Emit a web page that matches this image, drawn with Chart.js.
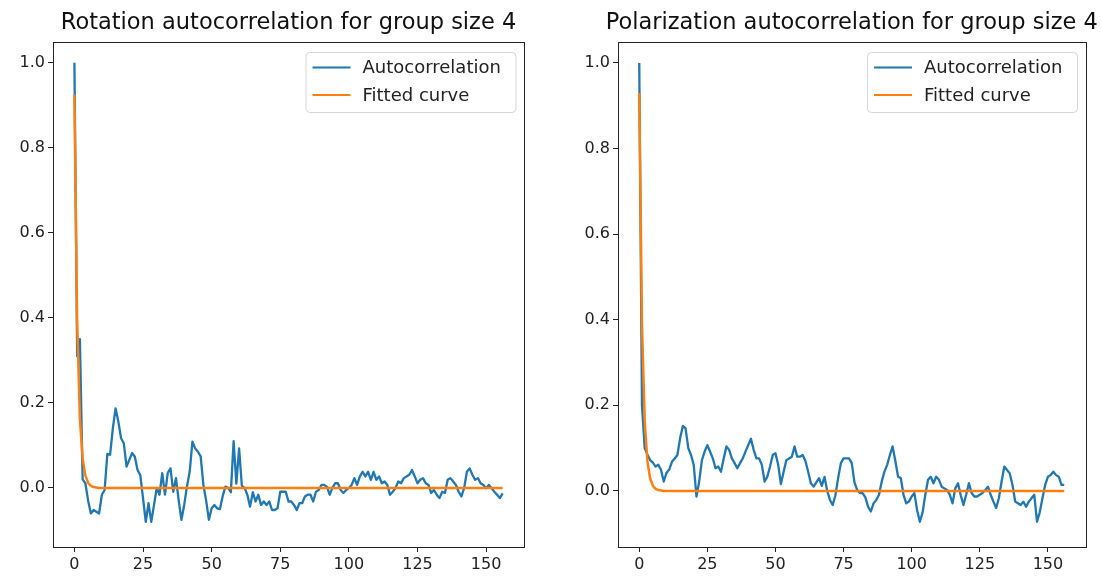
<!DOCTYPE html>
<html>
<head>
<title>Autocorrelation for group size 4</title>
<script src="https://cdn.jsdelivr.net/npm/chart.js"></script>
<style>
body { margin:0; background:#fff; }
.panel { position:absolute; top:0; width:551px; height:579px; }
</style>
</head>
<body>
<div class="panel" style="left:0"><canvas id="rot" width="551" height="579"></canvas></div>
<div class="panel" style="left:551px"><canvas id="pol" width="551" height="579"></canvas></div>

<script>
// ---------------- DATA ----------------
const xTicks = [0, 25, 50, 75, 100, 125, 150];
const yTicks = [0.0, 0.2, 0.4, 0.6, 0.8, 1.0];
const lags = Array.from({length:157}, (_, i) => i);

const rotationAC = [
 1.0, 0.31, 0.35, 0.02, 0.011, -0.03, -0.06, -0.052, -0.056, -0.06,
 -0.016, -0.005, 0.08, 0.078, 0.14, 0.187, 0.156, 0.117, 0.105, 0.05,
 0.066, 0.082, 0.074, 0.042, 0.03, -0.024, -0.08, -0.036, -0.08, -0.04,
 0.0, -0.016, 0.035, -0.016, 0.035, 0.046, -0.009, 0.023, -0.03, -0.075,
 -0.04, 0.003, 0.038, 0.109, 0.093, 0.085, 0.074, 0.007, -0.03, -0.075,
 -0.048, -0.04, -0.048, -0.05, -0.02, 0.003, 0.0, -0.01, 0.11, 0.01,
 0.093, 0.005, 0.0, -0.016, -0.044, -0.01, -0.032, -0.016, -0.04, -0.032,
 -0.04, -0.032, -0.052, -0.052, -0.048, -0.009, -0.009, -0.009, -0.032, -0.032,
 -0.04, -0.052, -0.036, -0.036, -0.02, -0.016, -0.016, -0.032, -0.009, -0.005,
 0.007, 0.007, 0.003, -0.016, 0.0, 0.011, 0.011, -0.005, -0.012, -0.005,
 0.0, 0.007, 0.023, 0.007, 0.027, 0.038, 0.027, 0.038, 0.019, 0.038,
 0.019, 0.027, 0.011, 0.015, 0.007, -0.016, -0.009, 0.0, 0.015, 0.011,
 0.023, 0.027, 0.031, 0.042, 0.027, 0.011, 0.019, 0.023, 0.011, 0.007,
 -0.012, -0.005, -0.016, -0.024, -0.009, -0.012, 0.019, 0.023, 0.015, 0.007,
 -0.009, -0.02, 0.0, 0.038, 0.046, 0.031, 0.019, 0.023, 0.011, 0.007,
 -0.001, 0.007, -0.001, -0.009, -0.016, -0.024, -0.013
];

const polarizationAC = [
 1.0, 0.2, 0.1, 0.085, 0.072, 0.066, 0.057, 0.061, 0.049, 0.022,
 0.042, 0.05, 0.068, 0.076, 0.084, 0.123, 0.152, 0.146, 0.1, 0.084,
 0.061, -0.013, 0.022, 0.072, 0.092, 0.107, 0.092, 0.076, 0.053, 0.057,
 0.045, 0.076, 0.104, 0.096, 0.076, 0.065, 0.053, 0.065, 0.076, 0.092,
 0.107, 0.122, 0.096, 0.076, 0.076, 0.061, 0.022, 0.033, 0.057, 0.084,
 0.088, 0.061, 0.016, 0.045, 0.072, 0.076, 0.08, 0.104, 0.08, 0.08,
 0.084, 0.07, 0.045, 0.018, 0.01, 0.02, 0.03, 0.012, 0.033, 0.0,
 -0.021, -0.033, -0.01, 0.03, 0.065, 0.076, 0.076, 0.076, 0.065, 0.02,
 0.002, -0.005, -0.005, -0.015, -0.037, -0.048, -0.029, -0.021, -0.009, 0.022,
 0.045, 0.061, 0.084, 0.104, 0.07, 0.033, 0.03, -0.009, -0.029, -0.025,
 -0.013, -0.005, -0.045, -0.072, -0.05, -0.009, 0.026, 0.033, 0.018, 0.033,
 0.026, 0.01, 0.006, 0.002, -0.009, -0.029, 0.006, 0.018, -0.01, -0.033,
 -0.009, 0.018, -0.005, -0.013, -0.013, -0.009, -0.005, 0.002, 0.01, -0.009,
 -0.025, -0.04, -0.017, 0.022, 0.057, 0.049, 0.041, 0.014, -0.025, -0.029,
 -0.033, -0.025, -0.037, -0.025, -0.017, -0.009, -0.072, -0.05, -0.017, 0.014,
 0.033, 0.037, 0.045, 0.037, 0.033, 0.014, 0.014
];

// fitted exponential, read at the first lags; flat at zero afterwards
const rotationFit = [0.925, 0.39, 0.163, 0.069, 0.029, 0.012, 0.005, 0.002, 0.001, 0.0];
const polarizationFit = [0.93, 0.39, 0.164, 0.069, 0.029, 0.012, 0.005, 0.002, 0.001, 0.0];
const lastLag = 156;

const seriesNames = ["Autocorrelation", "Fitted curve"];
const BLUE = "#1f77b4";
const ORANGE = "#ff7f0e";
const FONT = "DejaVu Sans";

// ---------------- FRAME / TITLE / LEGEND ----------------
const decor = {
    id: "decor",
    afterDraw(chart, args, o){
        const ctx = chart.ctx;
        const a = chart.chartArea;
        ctx.save();

        // box around axes
        ctx.strokeStyle = "#222";
        ctx.lineWidth = 1;
        ctx.strokeRect(Math.round(a.left)+0.5, Math.round(a.top)+0.5,
                       Math.round(a.right-a.left), Math.round(a.bottom-a.top));

        // title
        ctx.fillStyle = "#111";
        ctx.font = o.titleSize + "px '" + FONT + "'";
        ctx.textAlign = "center";
        ctx.textBaseline = "alphabetic";
        ctx.fillText(o.title, (a.left+a.right)/2, 29);

        // legend
        const w = 210, h = 60;
        const x = a.right - 8.5 - w, y = a.top + 10;
        ctx.beginPath();
        ctx.roundRect(x+0.5, y+0.5, w, h, 4);
        ctx.fillStyle = "rgba(255,255,255,0.85)";
        ctx.fill();
        ctx.strokeStyle = "#d6d6d6";
        ctx.stroke();

        ctx.font = o.legendSize + "px '" + FONT + "'";
        ctx.textAlign = "left";
        ctx.textBaseline = "middle";
        chart.data.datasets.forEach((ds, i)=>{
            const ly = y + 15.5 + i*27.5;
            ctx.strokeStyle = ds.borderColor;
            ctx.lineWidth = 2.2;
            ctx.beginPath();
            ctx.moveTo(x+7, ly);
            ctx.lineTo(x+45, ly);
            ctx.stroke();
            ctx.fillStyle = "#222";
            ctx.fillText(ds.label, x+57, ly+1);
        });

        ctx.restore();
    }
};

// ---------------- PANELS ----------------
function makePanel(id, title, ac, fit, yMin, yMax, yAxisWidth, padRight){
    const fitPoints = fit.map((v,i)=>({x:lags[i], y:v}));
    fitPoints.push({x:lastLag, y:0});

    return new Chart(document.getElementById(id), {
        type:"line",
        data:{
            datasets:[
                {label:seriesNames[0], data:ac.map((v,i)=>({x:lags[i], y:v})),
                 borderColor:BLUE, borderWidth:2.3, borderJoinStyle:"round",
                 pointRadius:0, tension:0, order:1},
                {label:seriesNames[1], data:fitPoints,
                 borderColor:ORANGE, borderWidth:2.5, borderJoinStyle:"round",
                 pointRadius:0, tension:0, order:0}
            ]
        },
        options:{
            responsive:false,
            animation:false,
            devicePixelRatio:1,
            layout:{ padding:{ top:42, bottom:0, left:0, right:padRight } },
            plugins:{
                legend:{ display:false },
                tooltip:{ enabled:false },
                decor:{ title:title, titleSize:22.5, legendSize:18 }
            },
            scales:{
                x:{
                    type:"linear",
                    min:-7.8, max:163.8,
                    afterBuildTicks: s => { s.ticks = xTicks.map(v=>({value:v})); },
                    afterFit: s => { s.height = 32; },
                    ticks:{ color:"#222", font:{family:FONT, size:16}, padding:3, maxRotation:0, autoSkip:false },
                    grid:{ drawOnChartArea:false, tickLength:5, color:"#222", tickWidth:1 },
                    border:{ display:false }
                },
                y:{
                    min:yMin, max:yMax,
                    afterBuildTicks: s => { s.ticks = yTicks.map(v=>({value:v})); },
                    afterFit: s => { s.width = yAxisWidth; },
                    ticks:{ color:"#222", font:{family:FONT, size:16}, padding:3,
                            callback: v => v.toFixed(1) },
                    grid:{ drawOnChartArea:false, tickLength:5, color:"#222", tickWidth:1 },
                    border:{ display:false }
                }
            }
        },
        plugins:[decor]
    });
}

makePanel("rot", "Rotation autocorrelation for group size 4",
          rotationAC, rotationFit, -0.139, 1.049, 53, 27);
makePanel("pol", "Polarization autocorrelation for group size 4",
          polarizationAC, polarizationFit, -0.131, 1.049, 67, 16.5);
</script>

</body>
</html>
